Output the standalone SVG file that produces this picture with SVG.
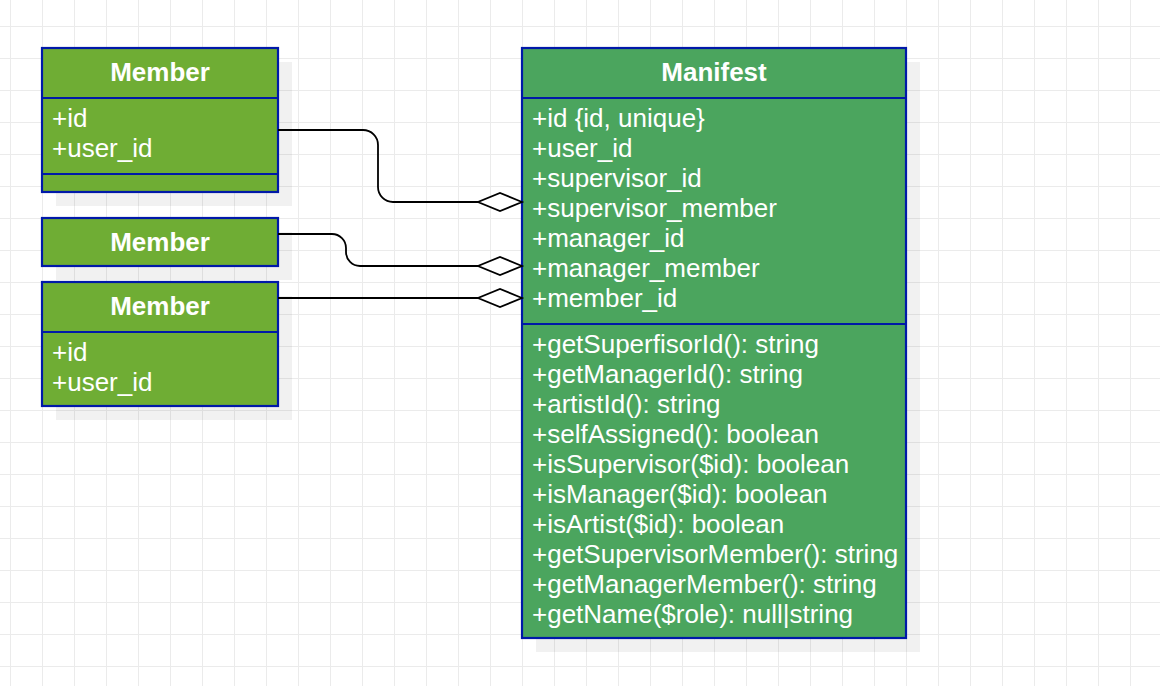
<svg xmlns="http://www.w3.org/2000/svg" width="1160" height="686" viewBox="0 0 1160 686">
  <defs>
    <pattern id="grid" x="10" y="26" width="32" height="32" patternUnits="userSpaceOnUse">
      <path d="M0.5 0 V32 M0 0.5 H32" fill="none" stroke="#ebebeb" stroke-width="1"/>
    </pattern>
  </defs>
  <style>
    .shadow { fill: #000000; fill-opacity: 0.055; }
    .member { fill: #6fad34; stroke: #0019a8; stroke-width: 2.2; }
    .manifest { fill: #4ba55e; stroke: #0019a8; stroke-width: 2.2; }
    .div { stroke: #0019a8; stroke-width: 2.2; fill: none; }
    .title { font-family: "Liberation Sans", Arial, sans-serif; font-size: 26px; font-weight: bold; fill: #ffffff; text-anchor: middle; }
    .row { font-family: "Liberation Sans", Arial, sans-serif; font-size: 26px; fill: #ffffff; }
    .edge { fill: none; stroke: #000000; stroke-width: 1.8; }
    .dia { fill: #ffffff; stroke: #000000; stroke-width: 1.8; stroke-linejoin: miter; }
  </style>
  <rect width="1160" height="686" fill="#ffffff"/>
  <rect width="1160" height="686" fill="url(#grid)"/>

  <g id="member1">
    <rect class="shadow" x="56" y="62" width="236" height="144"/>
    <rect class="member" x="42" y="48" width="236" height="144"/>
    <line class="div" x1="42" y1="98" x2="278" y2="98"/>
    <line class="div" x1="42" y1="174" x2="278" y2="174"/>
    <text class="title" x="160" y="81">Member</text>
    <text class="row" x="52" y="127">+id</text>
    <text class="row" x="52" y="157">+user_id</text>
  </g>

  <g id="member2">
    <rect class="shadow" x="56" y="232" width="236" height="48"/>
    <rect class="member" x="42" y="218" width="236" height="48"/>
    <text class="title" x="160" y="251">Member</text>
  </g>

  <g id="member3">
    <rect class="shadow" x="56" y="296" width="236" height="124"/>
    <rect class="member" x="42" y="282" width="236" height="124"/>
    <line class="div" x1="42" y1="332" x2="278" y2="332"/>
    <text class="title" x="160" y="315">Member</text>
    <text class="row" x="52" y="361">+id</text>
    <text class="row" x="52" y="391">+user_id</text>
  </g>

  <g id="manifest">
    <rect class="shadow" x="536" y="62" width="384" height="590"/>
    <rect class="manifest" x="522" y="48" width="384" height="590"/>
    <line class="div" x1="522" y1="98" x2="906" y2="98"/>
    <line class="div" x1="522" y1="324" x2="906" y2="324"/>
    <text class="title" x="714" y="81">Manifest</text>
    <text class="row" x="532" y="127">+id {id, unique}</text>
    <text class="row" x="532" y="157">+user_id</text>
    <text class="row" x="532" y="187">+supervisor_id</text>
    <text class="row" x="532" y="217">+supervisor_member</text>
    <text class="row" x="532" y="247">+manager_id</text>
    <text class="row" x="532" y="277">+manager_member</text>
    <text class="row" x="532" y="307">+member_id</text>
    <text class="row" x="532" y="353">+getSuperfisorId(): string</text>
    <text class="row" x="532" y="383">+getManagerId(): string</text>
    <text class="row" x="532" y="413">+artistId(): string</text>
    <text class="row" x="532" y="443">+selfAssigned(): boolean</text>
    <text class="row" x="532" y="473">+isSupervisor($id): boolean</text>
    <text class="row" x="532" y="503">+isManager($id): boolean</text>
    <text class="row" x="532" y="533">+isArtist($id): boolean</text>
    <text class="row" x="532" y="563">+getSupervisorMember(): string</text>
    <text class="row" x="532" y="593">+getManagerMember(): string</text>
    <text class="row" x="532" y="623">+getName($role): null|string</text>
  </g>

  <g id="connectors">
    <path class="edge" d="M278 130 H363 A15 15 0 0 1 378 145 V187 A15 15 0 0 0 393 202 H478"/>
    <path class="dia" d="M522 202 L500 193 L478 202 L500 211 Z"/>
    <path class="edge" d="M278 234 H332 A14 14 0 0 1 346 248 V252 A14 14 0 0 0 360 266 H478"/>
    <path class="dia" d="M522 266 L500 257 L478 266 L500 275 Z"/>
    <path class="edge" d="M278 298 H478"/>
    <path class="dia" d="M522 298 L500 289 L478 298 L500 307 Z"/>
  </g>
</svg>
